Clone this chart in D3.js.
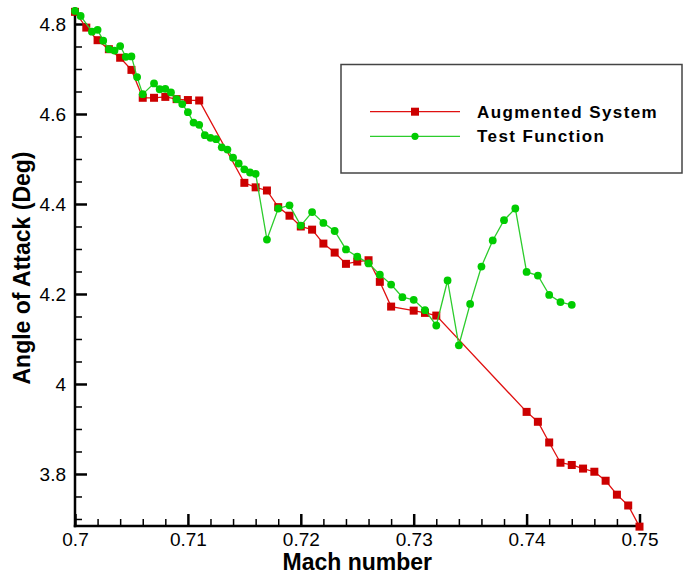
<!DOCTYPE html>
<html>
<head>
<meta charset="utf-8">
<script src="https://cdn.jsdelivr.net/npm/d3@7"></script>
<style>
  html, body { margin: 0; padding: 0; background: #fff; }
  svg { display: block; font-family: "Liberation Sans", Arial, sans-serif; }
</style>
</head>
<body>
<svg id="chart" width="684" height="574"></svg>
<script>
// ---- Data ----
const machAug = [0.700,0.701,0.702,0.703,0.704,0.705,0.706,0.707,0.708,0.709,0.710,0.711,
  0.715,0.716,0.717,0.718,0.719,0.720,0.721,0.722,0.723,0.724,0.725,0.726,0.727,0.728,
  0.730,0.731,0.732,
  0.740,0.741,0.742,0.743,0.744,0.745,0.746,0.747,0.748,0.749,0.750];
const aoaAug = [4.827,4.792,4.764,4.744,4.725,4.698,4.636,4.636,4.638,4.633,4.631,4.630,
  4.447,4.437,4.430,4.393,4.374,4.350,4.343,4.312,4.292,4.267,4.272,4.275,4.227,4.172,
  4.163,4.158,4.152,
  3.938,3.916,3.870,3.825,3.820,3.812,3.805,3.785,3.754,3.730,3.683];

const machTF = [0.7000,0.7005,0.7015,0.7020,0.7025,0.7030,0.7035,0.7040,0.7045,0.7050,0.7055,0.7060,
  0.7070,0.7075,0.7080,0.7085,0.7090,0.7095,0.7100,0.7105,0.7110,0.7115,0.7120,0.7125,0.7130,
  0.7135,0.7140,0.7145,0.7150,0.7155,0.7160,
  0.717,0.718,0.719,0.720,0.721,0.722,0.723,0.724,0.725,0.726,0.727,0.728,0.729,0.730,
  0.731,0.732,0.733,0.734,0.735,0.736,0.737,0.738,0.739,0.740,0.741,0.742,0.743,0.744];
const aoaTF = [4.829,4.818,4.783,4.787,4.763,4.744,4.741,4.751,4.727,4.728,4.682,4.644,
  4.668,4.655,4.656,4.648,4.633,4.622,4.604,4.581,4.576,4.553,4.547,4.544,4.526,
  4.521,4.503,4.490,4.477,4.470,4.467,
  4.321,4.390,4.397,4.352,4.382,4.358,4.340,4.299,4.283,4.268,4.243,4.221,4.193,4.187,
  4.164,4.130,4.230,4.086,4.178,4.261,4.319,4.364,4.390,4.249,4.241,4.198,4.182,4.176];

const xTicks = [0.70,0.71,0.72,0.73,0.74,0.75];
const xTickLabels = ["0.7","0.71","0.72","0.73","0.74","0.75"];
const xMinor = [0.702,0.704,0.706,0.708,0.712,0.714,0.716,0.718,0.722,0.724,0.726,0.728,
  0.732,0.734,0.736,0.738,0.742,0.744,0.746,0.748];
const yTicks = [3.8,4.0,4.2,4.4,4.6,4.8];
const yTickLabels = ["3.8","4","4.2","4.4","4.6","4.8"];
const yMinor = [3.70,3.75,3.85,3.90,3.95,4.05,4.10,4.15,4.25,4.30,4.35,4.45,4.50,4.55,4.65,4.70,4.75];

const seriesNames = ["Augmented System","Test Function"];

// ---- Layout ----
const svg = d3.select("#chart");
const pLeft = 75, pRight = 639.5, pTop = 10, pBottom = 526;
const x = d3.scaleLinear().domain([0.70, 0.75]).range([pLeft, pRight]);
const y = d3.scaleLinear().domain([3.6844, 4.8311]).range([pBottom, pTop]);

const redLine = "#e01010", redFill = "#cc0000";
const greenLine = "#2ccc2c", greenFill = "#00cc00";

// minor ticks
svg.append("g").attr("transform", `translate(0,${pBottom})`)
  .call(d3.axisBottom(x).tickValues(xMinor).tickSize(-7).tickFormat(""))
  .call(g => g.select(".domain").remove())
  .call(g => g.selectAll("line").attr("stroke","#000").attr("stroke-width",1.5));
svg.append("g").attr("transform", `translate(${pLeft},0)`)
  .call(d3.axisLeft(y).tickValues(yMinor).tickSize(-7).tickFormat(""))
  .call(g => g.select(".domain").remove())
  .call(g => g.selectAll("line").attr("stroke","#000").attr("stroke-width",1.5));

// major ticks + labels
svg.append("g").attr("transform", `translate(0,${pBottom})`)
  .call(d3.axisBottom(x).tickValues(xTicks).tickSize(-12).tickPadding(7)
    .tickFormat((d,i) => xTickLabels[i]))
  .call(g => g.select(".domain").remove())
  .call(g => g.selectAll("line").attr("stroke","#000").attr("stroke-width",2.5))
  .call(g => g.selectAll("text").attr("font-size","19px").attr("fill","#000")
    .attr("font-family","'Liberation Sans', Arial, sans-serif"));
svg.append("g").attr("transform", `translate(${pLeft},0)`)
  .call(d3.axisLeft(y).tickValues(yTicks).tickSize(-12).tickPadding(9)
    .tickFormat((d,i) => yTickLabels[i]))
  .call(g => g.select(".domain").remove())
  .call(g => g.selectAll("line").attr("stroke","#000").attr("stroke-width",2.5))
  .call(g => g.selectAll("text").attr("font-size","19px").attr("fill","#000")
    .attr("font-family","'Liberation Sans', Arial, sans-serif"));

// axis lines
svg.append("line").attr("x1", pLeft).attr("x2", pLeft).attr("y1", 7).attr("y2", pBottom + 1.25)
  .attr("stroke","#000").attr("stroke-width",2.5);
svg.append("line").attr("x1", pLeft - 1.25).attr("x2", pRight + 1.5).attr("y1", pBottom).attr("y2", pBottom)
  .attr("stroke","#000").attr("stroke-width",2.5);

// series
const augData = machAug.map((m,i) => [m, aoaAug[i]]);
const tfData = machTF.map((m,i) => [m, aoaTF[i]]);
const line = d3.line().x(d => x(d[0])).y(d => y(d[1]));

svg.append("path").datum(augData).attr("d", line)
  .attr("fill","none").attr("stroke", redLine).attr("stroke-width",1.3);
svg.append("g").selectAll("rect").data(augData).join("rect")
  .attr("x", d => x(d[0]) - 4).attr("y", d => y(d[1]) - 4)
  .attr("width", 8).attr("height", 8).attr("fill", redFill);

svg.append("path").datum(tfData).attr("d", line)
  .attr("fill","none").attr("stroke", greenLine).attr("stroke-width",1.3);
svg.append("g").selectAll("circle").data(tfData).join("circle")
  .attr("cx", d => x(d[0])).attr("cy", d => y(d[1])).attr("r", 3.9).attr("fill", greenFill);

// axis titles
svg.append("text").attr("x", (pLeft + pRight) / 2).attr("y", 570)
  .attr("text-anchor","middle").attr("font-size","23px").attr("font-weight","bold")
  .text("Mach number");
svg.append("text").attr("transform", `translate(30,${(pTop + pBottom) / 2}) rotate(-90)`)
  .attr("text-anchor","middle").attr("font-size","23px").attr("font-weight","bold")
  .text("Angle of Attack (Deg)");

// legend
const lg = svg.append("g");
lg.append("rect").attr("x", 341).attr("y", 64.5).attr("width", 341).attr("height", 108.5)
  .attr("fill","#fff").attr("stroke","#444").attr("stroke-width",1.5);
const legendRows = [
  {name: seriesNames[0], y: 111.7, stroke: redLine, fill: redFill, shape: "rect"},
  {name: seriesNames[1], y: 136.3, stroke: greenLine, fill: greenFill, shape: "circle"}
];
legendRows.forEach(r => {
  lg.append("line").attr("x1", 370).attr("x2", 460).attr("y1", r.y).attr("y2", r.y)
    .attr("stroke", r.stroke).attr("stroke-width", 1.3);
  if (r.shape === "rect") {
    lg.append("rect").attr("x", 415 - 4).attr("y", r.y - 4).attr("width", 8).attr("height", 8).attr("fill", r.fill);
  } else {
    lg.append("circle").attr("cx", 415).attr("cy", r.y).attr("r", 3.6).attr("fill", r.fill);
  }
  lg.append("text").attr("x", 477).attr("y", r.y + 6).attr("font-size","17px")
    .attr("font-weight","bold").attr("letter-spacing","1.4px").text(r.name);
});
</script>
</body>
</html>
